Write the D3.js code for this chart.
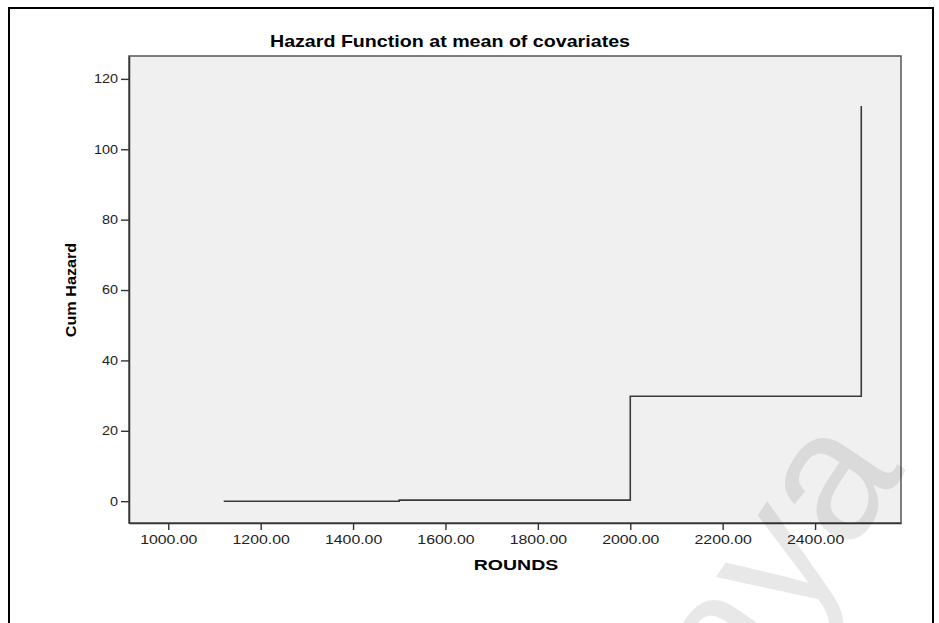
<!DOCTYPE html>
<html>
<head>
<meta charset="utf-8">
<script src="https://cdn.jsdelivr.net/npm/d3@7"></script>
<style>
  body { margin: 0; background: #fff; }
  svg { display: block; }
</style>
</head>
<body>
<div id="chart"></div>
<script>
// data
const rounds = [1120, 1500, 2000, 2500];
const cumHazard = [0, 0.3, 29.8, 112.3];
const xTicks = [1000, 1200, 1400, 1600, 1800, 2000, 2200, 2400];
const yTicks = [0, 20, 40, 60, 80, 100, 120];

const width = 939, height = 623;
const plot = {left: 129, right: 901, top: 56, bottom: 523};

const svg = d3.select("#chart").append("svg")
    .attr("width", width)
    .attr("height", height)
    .attr("viewBox", [0, 0, width, height]);

// outer frame (bottom edge falls outside the picture)
svg.append("rect")
    .attr("x", 9).attr("y", 8)
    .attr("width", 924).attr("height", 640)
    .attr("fill", "#fff")
    .attr("stroke", "#000")
    .attr("stroke-width", 2);

const x = d3.scaleLinear([915, 2586], [plot.left, plot.right]);
const y = d3.scaleLinear([-6.2, 126.5], [plot.bottom, plot.top]);

// stretch text horizontally like the SPSS export does
function stretch(sel, k) {
    sel.each(function() {
        const w = this.getComputedTextLength();
        d3.select(this).attr("textLength", w * k).attr("lengthAdjust", "spacingAndGlyphs");
    });
}

svg.append("rect")
    .attr("x", plot.left).attr("y", plot.top)
    .attr("width", plot.right - plot.left)
    .attr("height", plot.bottom - plot.top)
    .attr("fill", "#f0f0f0")
    .attr("stroke", "#555")
    .attr("stroke-width", 1.5);

const line = d3.line()
    .x((d, i) => x(rounds[i]))
    .y((d, i) => y(cumHazard[i]))
    .curve(d3.curveStepAfter);

svg.append("path")
    .attr("d", line(rounds))
    .attr("fill", "none")
    .attr("stroke", "#3a3a3a")
    .attr("stroke-width", 1.6);

const xAxis = svg.append("g")
    .attr("transform", `translate(0,${plot.bottom})`)
    .call(d3.axisBottom(x).tickValues(xTicks).tickFormat(d3.format(".2f"))
        .tickSize(7).tickSizeOuter(0).tickPadding(5));

const yAxis = svg.append("g")
    .attr("transform", `translate(${plot.left},0)`)
    .call(d3.axisLeft(y).tickValues(yTicks)
        .tickSize(8).tickSizeOuter(0).tickPadding(3));

[xAxis, yAxis].forEach(g => {
    g.select(".domain").attr("stroke", "#333").attr("stroke-width", 1.5);
    g.selectAll(".tick line").attr("stroke", "#333").attr("stroke-width", 1.4);
    g.selectAll(".tick text")
        .attr("fill", "#222")
        .style("font", "12px 'Liberation Sans', Arial, sans-serif");
});
xAxis.selectAll(".tick text").call(stretch, 1.32);
yAxis.selectAll(".tick text").call(stretch, 1.2);

svg.append("text")
    .attr("x", 450).attr("y", 47)
    .attr("text-anchor", "middle")
    .style("font", "bold 16.5px 'Liberation Sans', Arial, sans-serif")
    .text("Hazard Function at mean of covariates")
    .call(stretch, 1.19);

svg.append("text")
    .attr("x", 516).attr("y", 570)
    .attr("text-anchor", "middle")
    .style("font", "bold 15px 'Liberation Sans', Arial, sans-serif")
    .text("ROUNDS")
    .call(stretch, 1.3);

svg.append("text")
    .attr("transform", "translate(76,290) rotate(-90)")
    .attr("text-anchor", "middle")
    .style("font", "bold 15px 'Liberation Sans', Arial, sans-serif")
    .text("Cum Hazard")
    .call(stretch, 1.08);

// faint watermark in the lower right corner
svg.append("text")
    .attr("transform", "translate(906,470) rotate(-56)")
    .attr("text-anchor", "end")
    .attr("fill", "#000")
    .attr("fill-opacity", 0.09)
    .style("font", "185px 'Liberation Sans', Arial, sans-serif")
    .text("Malaya");
</script>
</body>
</html>
